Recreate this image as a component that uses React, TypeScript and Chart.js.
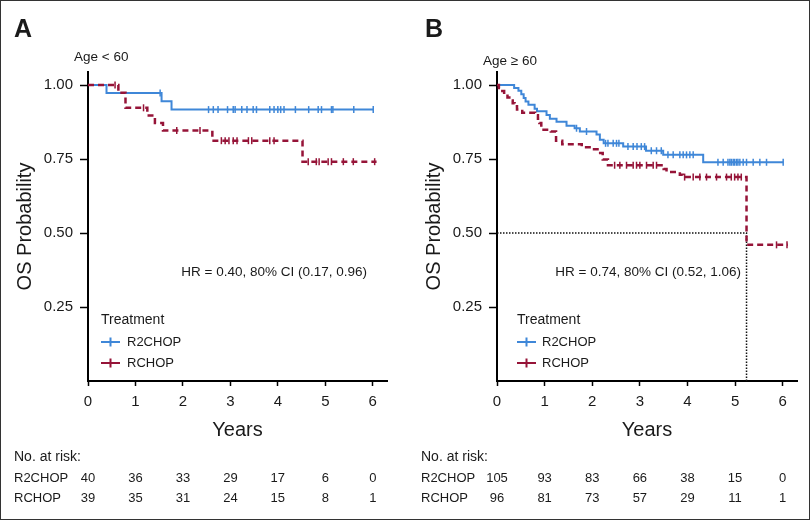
import React, { useEffect, useRef } from 'react';
import { Chart, registerables } from 'chart.js';

Chart.register(...registerables);

const FONT = '"Liberation Sans", Arial, Helvetica, sans-serif';
const INK = '#1a1a1a';
const BLUE = '#3f87d8';
const RED = '#961438';

// ---------- shared axes / labels ----------
const GROUPS = ['R2CHOP', 'RCHOP'];
const YEAR_TICKS = [0, 1, 2, 3, 4, 5, 6];
const PROB_TICKS = [0.25, 0.5, 0.75, 1.0];
const X_MAX = 6.3;
const Y_MAX = 1.044;

// ---------- Panel A (Age < 60) ----------
const A_R2CHOP_TIME = [0, 0.39, 1.55, 1.76, 6.02];
const A_R2CHOP_SURV = [1.0, 0.973, 0.945, 0.917, 0.917];
const A_R2CHOP_CENSOR = [1.52, 2.54, 2.64, 2.74, 2.94, 3.06, 3.1, 3.24, 3.35, 3.48, 3.55, 3.83, 3.92, 4.0, 4.06, 4.13, 4.37, 4.65, 4.85, 4.92, 5.13, 5.16, 5.6, 6.01];

const A_RCHOP_TIME = [0, 0.64, 0.79, 1.25, 1.41, 1.58, 2.62, 4.52, 6.08];
const A_RCHOP_SURV = [1.0, 0.974, 0.923, 0.897, 0.872, 0.846, 0.812, 0.741, 0.741];
const A_RCHOP_CENSOR = [0.57, 1.17, 1.87, 2.36, 2.81, 2.89, 2.97, 3.06, 3.14, 3.38, 3.45, 3.83, 3.92, 4.64, 4.81, 4.87, 5.06, 5.13, 5.38, 5.59, 6.04];

const A_RISK_R2CHOP = [40, 36, 33, 29, 17, 6, 0];
const A_RISK_RCHOP = [39, 35, 31, 24, 15, 8, 1];

// ---------- Panel B (Age >= 60) ----------
const B_R2CHOP_TIME = [0, 0.36, 0.45, 0.51, 0.56, 0.6, 0.66, 0.79, 0.84, 1.04, 1.11, 1.25, 1.46, 1.63, 1.74, 2.09, 2.16, 2.24, 2.65, 3.13, 3.49, 4.33, 6.01];
const B_R2CHOP_SURV = [1.0, 0.99, 0.981, 0.969, 0.956, 0.944, 0.933, 0.92, 0.911, 0.899, 0.886, 0.876, 0.862, 0.854, 0.843, 0.833, 0.815, 0.803, 0.792, 0.778, 0.764, 0.739, 0.739];
const B_R2CHOP_CENSOR = [1.67, 1.88, 2.28, 2.33, 2.44, 2.51, 2.56, 2.75, 2.86, 2.94, 3.03, 3.1, 3.24, 3.35, 3.45, 3.59, 3.7, 3.84, 3.91, 3.98, 4.05, 4.12, 4.64, 4.75, 4.85, 4.89, 4.92, 4.96, 4.99, 5.03, 5.06, 5.1, 5.17, 5.24, 5.38, 5.52, 5.66, 6.01];

const B_RCHOP_TIME = [0, 0.04, 0.08, 0.15, 0.22, 0.3, 0.33, 0.37, 0.42, 0.53, 0.8, 0.86, 0.89, 0.93, 1.13, 1.24, 1.37, 1.78, 1.98, 2.14, 2.22, 2.33, 3.5, 3.56, 3.84, 3.9, 5.24, 6.11];
const B_RCHOP_SURV = [1.0, 0.99, 0.98, 0.97, 0.958, 0.948, 0.938, 0.928, 0.917, 0.906, 0.898, 0.886, 0.872, 0.849, 0.843, 0.812, 0.8, 0.79, 0.783, 0.77, 0.748, 0.729, 0.716, 0.706, 0.697, 0.689, 0.46, 0.46];
const B_RCHOP_CENSOR = [2.47, 2.58, 2.72, 2.86, 2.93, 3.0, 3.14, 3.28, 3.35, 3.94, 4.12, 4.26, 4.4, 4.61, 4.82, 4.92, 4.99, 5.06, 5.13, 5.87, 6.09];

const B_RISK_R2CHOP = [105, 93, 83, 66, 38, 15, 0];
const B_RISK_RCHOP = [96, 81, 73, 57, 29, 11, 1];

// ---------- helpers ----------
function survAt(times: number[], surv: number[], t: number): number {
  let s = surv[0];
  for (let i = 0; i < times.length; i++) if (times[i] <= t) s = surv[i];
  return s;
}
function medianTime(times: number[], surv: number[]): number | null {
  for (let i = 0; i < times.length; i++) if (surv[i] <= 0.5) return times[i];
  return null;
}

type Curve = { label: string; color: string; dash: number[]; times: number[]; surv: number[]; censor: number[] };
type Spec = {
  letter: string; subtitle: string; hr: string;
  curves: Curve[]; risk: number[][]; medianOf: number | null;
  areaLeft: number; areaRight: number;
  letterX: number; subX: number; subY: number; hrRight: number;
  legendX: number; legendTextX: number; tableX: number;
};

const SPEC_A: Spec = {
  letter: 'A', subtitle: 'Age < 60', hr: 'HR = 0.40, 80% CI (0.17, 0.96)',
  curves: [
    { label: GROUPS[0], color: BLUE, dash: [], times: A_R2CHOP_TIME, surv: A_R2CHOP_SURV, censor: A_R2CHOP_CENSOR },
    { label: GROUPS[1], color: RED, dash: [6, 4], times: A_RCHOP_TIME, surv: A_RCHOP_SURV, censor: A_RCHOP_CENSOR },
  ],
  risk: [A_RISK_R2CHOP, A_RISK_RCHOP], medianOf: null,
  areaLeft: 88, areaRight: 387,
  letterX: 14, subX: 74, subY: 61, hrRight: 367,
  legendX: 101, legendTextX: 127, tableX: 14,
};

const SPEC_B: Spec = {
  letter: 'B', subtitle: 'Age \u2265 60', hr: 'HR = 0.74, 80% CI (0.52, 1.06)',
  curves: [
    { label: GROUPS[0], color: BLUE, dash: [], times: B_R2CHOP_TIME, surv: B_R2CHOP_SURV, censor: B_R2CHOP_CENSOR },
    { label: GROUPS[1], color: RED, dash: [6, 4], times: B_RCHOP_TIME, surv: B_RCHOP_SURV, censor: B_RCHOP_CENSOR },
  ],
  risk: [B_RISK_R2CHOP, B_RISK_RCHOP], medianOf: 1,
  areaLeft: 92, areaRight: 392,
  letterX: 20, subX: 78, subY: 65, hrRight: 336,
  legendX: 112, legendTextX: 137, tableX: 16,
};

const W = 405;
const H = 520;
const AREA_TOP = 72;
const AREA_BOTTOM = 381;

const annotPlugin = {
  id: 'annot',
  afterDraw(chart: any, _args: any, opts: any) {
    const p: Spec = opts.spec;
    const { ctx } = chart;
    const x = chart.scales.x;
    ctx.save();
    ctx.fillStyle = INK;
    ctx.textBaseline = 'alphabetic';
    ctx.textAlign = 'left';
    ctx.font = `bold 25px ${FONT}`;
    ctx.fillText(p.letter, p.letterX, 37);
    ctx.font = `13.5px ${FONT}`;
    ctx.fillText(p.subtitle, p.subX, p.subY);

    ctx.textBaseline = 'middle';
    ctx.textAlign = 'right';
    ctx.fillText(p.hr, p.hrRight, 272);

    // legend
    ctx.textAlign = 'left';
    ctx.font = `14px ${FONT}`;
    ctx.fillText('Treatment', p.legendX, 320);
    ctx.font = `13px ${FONT}`;
    p.curves.forEach((c, i) => {
      const y = 342 + i * 21;
      ctx.strokeStyle = c.color;
      ctx.lineWidth = 2;
      ctx.setLineDash([]);
      ctx.beginPath();
      ctx.moveTo(p.legendX, y);
      ctx.lineTo(p.legendX + 19, y);
      ctx.moveTo(p.legendX + 9.5, y - 4.5);
      ctx.lineTo(p.legendX + 9.5, y + 4.5);
      ctx.stroke();
      ctx.fillStyle = INK;
      ctx.fillText(c.label, p.legendTextX, y);
    });

    // risk table
    ctx.font = `14px ${FONT}`;
    ctx.fillText('No. at risk:', p.tableX, 457);
    ctx.font = `13px ${FONT}`;
    p.curves.forEach((c, i) => {
      const y = 478 + i * 20;
      ctx.textAlign = 'left';
      ctx.fillText(c.label, p.tableX, y);
      ctx.textAlign = 'center';
      YEAR_TICKS.forEach((t, j) => {
        ctx.fillText(String(p.risk[i][j]), x.getPixelForValue(t), y);
      });
    });
    ctx.restore();
  },
};

function buildConfig(p: Spec): any {
  const datasets: any[] = [];
  p.curves.forEach((c, i) => {
    const ord = i === 1 ? 0 : 1;
    datasets.push({
      label: c.label,
      data: c.times.map((t, k) => ({ x: t, y: c.surv[k] })),
      stepped: 'before',
      borderColor: c.color,
      borderWidth: c.dash.length ? 2.5 : 2,
      borderDash: c.dash,
      borderCapStyle: 'butt',
      pointRadius: 0,
      fill: false,
      order: ord,
    });
    datasets.push({
      label: c.label + ' censored',
      data: c.censor.map((t) => ({ x: t, y: survAt(c.times, c.surv, t) })),
      showLine: false,
      pointStyle: 'line',
      rotation: 90,
      pointRadius: 3.5,
      pointBorderWidth: 1.5,
      borderColor: c.color,
      backgroundColor: c.color,
      order: ord,
    });
  });
  if (p.medianOf !== null) {
    const c = p.curves[p.medianOf];
    const m = medianTime(c.times, c.surv);
    if (m !== null) {
      datasets.push({
        label: 'median',
        data: [{ x: 0, y: 0.5 }, { x: m, y: 0.5 }, { x: m, y: 0 }],
        borderColor: '#111',
        borderWidth: 1.5,
        borderDash: [1.5, 1.5],
        pointRadius: 0,
        fill: false,
        order: 2,
      });
    }
  }
  const tickFont = { family: FONT, size: 15 };
  return {
    type: 'line',
    data: { datasets },
    plugins: [annotPlugin],
    options: {
      animation: false,
      responsive: false,
      devicePixelRatio: 1,
      layout: { padding: { top: AREA_TOP, right: W - p.areaRight, left: 0, bottom: 0 } },
      plugins: {
        legend: { display: false },
        tooltip: { enabled: false },
        annot: { spec: p },
      },
      scales: {
        x: {
          type: 'linear',
          min: 0,
          max: X_MAX,
          afterBuildTicks: (s: any) => { s.ticks = YEAR_TICKS.map((v) => ({ value: v })); },
          afterFit: (s: any) => { s.height = H - AREA_BOTTOM; },
          ticks: { font: tickFont, color: INK, padding: 7, callback: (v: any) => String(v) },
          grid: { drawOnChartArea: false, drawTicks: true, tickLength: 5, tickColor: '#000', tickWidth: 1.5 },
          border: { display: true, color: '#000', width: 2 },
          title: { display: true, text: 'Years', color: INK, font: { family: FONT, size: 20 }, padding: { top: 0, bottom: 78 } },
        },
        y: {
          type: 'linear',
          min: 0,
          max: Y_MAX,
          afterBuildTicks: (s: any) => { s.ticks = PROB_TICKS.map((v) => ({ value: v })); },
          afterFit: (s: any) => { s.width = p.areaLeft; },
          ticks: { font: tickFont, color: INK, padding: 7, callback: (v: any) => Number(v).toFixed(2) },
          grid: { drawOnChartArea: false, drawTicks: true, tickLength: 8, tickColor: '#000', tickWidth: 1.5 },
          border: { display: true, color: '#000', width: 2 },
          title: { display: true, text: 'OS Probability', color: INK, font: { family: FONT, size: 20 }, padding: { top: p.areaLeft - 75, bottom: 0 } },
        },
      },
    },
  };
}

function Panel({ spec, left }: { spec: Spec; left: number }) {
  const ref = useRef<HTMLCanvasElement>(null);
  useEffect(() => {
    if (!ref.current) return;
    const chart = new Chart(ref.current, buildConfig(spec));
    return () => chart.destroy();
  }, [spec]);
  return (
    <canvas
      ref={ref}
      width={W}
      height={H}
      style={{ position: 'absolute', left, top: 0, width: W, height: H }}
    />
  );
}

export default function App() {
  return (
    <div style={{ position: 'absolute', left: 0, top: 0, width: 810, height: 520, background: '#fff', fontFamily: FONT }}>
      <Panel spec={SPEC_A} left={0} />
      <Panel spec={SPEC_B} left={405} />
      <div
        style={{
          position: 'absolute', left: 0, top: 0, width: 810, height: 520,
          boxSizing: 'border-box', border: '1px solid #333', pointerEvents: 'none',
        }}
      />
    </div>
  );
}
